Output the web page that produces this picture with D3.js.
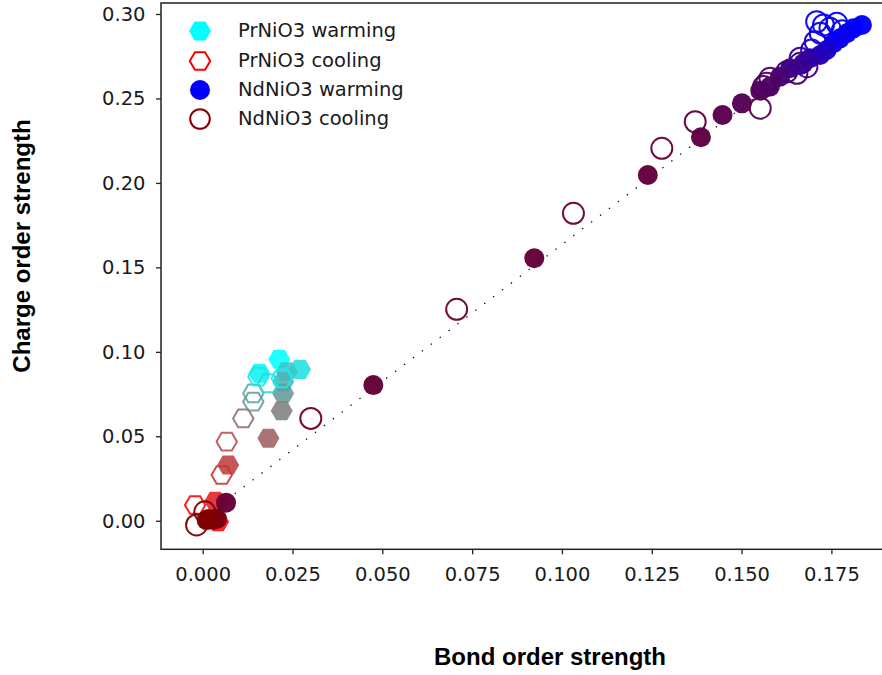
<!DOCTYPE html>
<html>
<head>
<meta charset="utf-8">
<script src="https://cdn.jsdelivr.net/npm/d3@7/dist/d3.min.js"></script>
<style>
  html, body { margin: 0; padding: 0; background: #fff; }
  svg { display: block; }
</style>
</head>
<body>
<svg id="chart" width="882" height="675"></svg>
<script>
// ---- data: bond order vs charge order strength, colour = temperature (K) ----

// PrNiO3, warming (filled hexagons)
const prWarmBond   = [0.0213, 0.0158, 0.0271, 0.0234, 0.0224, 0.0224, 0.0220, 0.0183, 0.0071, 0.0035, 0.0016, 0.0043];
const prWarmCharge = [0.0956, 0.0873, 0.0896, 0.0882, 0.0823, 0.0754, 0.0651, 0.0488, 0.0330, 0.0115, 0.0004, -0.0006];
const prWarmTemp   = [10, 17, 27, 41, 52, 66, 80, 97, 115, 133, 143, 150];

// PrNiO3, cooling (open hexagons)
const prCoolBond   = [-0.0021, 0.0053, 0.0067, 0.0113, 0.0141, 0.0141, 0.0183, 0.0155, 0.0220];
const prCoolCharge = [0.0093, 0.0271, 0.0468, 0.0606, 0.0705, 0.0754, 0.0813, 0.0853, 0.0843];
const prCoolTemp   = [150, 122, 108, 90, 66, 59, 31, 21, 17];

// NdNiO3, warming (filled circles)
const ndWarmBond   = [0.1835, 0.1811, 0.1793, 0.1774, 0.1756, 0.1737, 0.1719, 0.1691, 0.1672, 0.1635, 0.1607, 0.1579,
                      0.1552, 0.1501, 0.1447, 0.1387, 0.1239, 0.0923, 0.0475, 0.0065, 0.0040, 0.0030, 0.0016, 0.0011];
const ndWarmCharge = [0.2935, 0.2915, 0.2886, 0.2856, 0.2827, 0.2787, 0.2757, 0.2738, 0.2708, 0.2679, 0.2629, 0.2570,
                      0.2546, 0.2471, 0.2402, 0.2270, 0.2047, 0.1554, 0.0803, 0.0107, 0.0012, 0.0008, 0.0010, 0.0004];
const ndWarmTemp   = [10, 14, 18, 27, 39, 58, 77, 94, 111, 125, 140, 149,
                      160, 170, 178, 186, 192, 195, 197, 199, 231, 238, 245, 250];

// NdNiO3, cooling (open circles)
const ndCoolBond   = [-0.0017, 0.0006, 0.0301, 0.0707, 0.1032, 0.1278, 0.1371, 0.1552, 0.1561, 0.1570, 0.1579, 0.1626,
                      0.1654, 0.1663, 0.1682, 0.1663, 0.1695, 0.1705, 0.1719, 0.1709, 0.1728, 0.1746, 0.1765, 0.1780];
const ndCoolCharge = [-0.0025, 0.0053, 0.0606, 0.1252, 0.1820, 0.2205, 0.2362, 0.2442, 0.2570, 0.2590, 0.2619, 0.2658,
                      0.2649, 0.2708, 0.2688, 0.2738, 0.2787, 0.2836, 0.2886, 0.2954, 0.2935, 0.2915, 0.2945, 0.2900];
const ndCoolTemp   = [250, 240, 221, 209, 204, 200, 195, 178, 168, 161, 154, 147,
                      140, 125, 118, 101, 82, 58, 39, 27, 22, 17, 12, 10];

// guide line: charge = intercept + slope * bond
const guideSlope = 1.62;
const guideIntercept = 0.0015;
const guideBond = [-0.001, 0.1845];

const xTicks = [0, 0.025, 0.05, 0.075, 0.1, 0.125, 0.15, 0.175];
const yTicks = [0, 0.05, 0.10, 0.15, 0.20, 0.25, 0.30];

const legendLabels = ["PrNiO3 warming", "PrNiO3 cooling", "NdNiO3 warming", "NdNiO3 cooling"];

// ---- layout ----
const svg = d3.select("#chart");
const plot = { left: 161, right: 900, top: 3, bottom: 549.3 };

const x = d3.scaleLinear().domain([-0.0116, 0.1941]).range([plot.left, plot.right]);
const y = d3.scaleLinear().domain([-0.0169, 0.3065]).range([plot.bottom, plot.top]);

const prColor = d3.scaleLinear().domain([150, 10]).range(["#ff0000", "#00ffff"]).clamp(true);
const ndColor = d3.scaleLinear().domain([250, 10]).range(["#800000", "#0000ff"]).clamp(true);

const tickFont = "'DejaVu Sans', sans-serif";
const titleFont = "'Liberation Sans', Arial, sans-serif";

// hexagon with vertices pointing left/right
function hexPath(r) {
  const pts = d3.range(6).map(i => {
    const a = i * Math.PI / 3;
    return [r * Math.cos(a), r * Math.sin(a)];
  });
  return "M" + pts.map(p => p[0].toFixed(2) + "," + p[1].toFixed(2)).join("L") + "Z";
}

// ---- axes ----
const xAxis = d3.axisBottom(x).tickValues(xTicks).tickFormat(d3.format(".3f"))
  .tickSize(5).tickPadding(13).tickSizeOuter(0);
const yAxis = d3.axisLeft(y).tickValues(yTicks).tickFormat(d3.format(".2f"))
  .tickSize(5).tickPadding(10.5).tickSizeOuter(0);

const gx = svg.append("g").attr("transform", `translate(0,${plot.bottom})`).call(xAxis);
const gy = svg.append("g").attr("transform", `translate(${plot.left},0)`).call(yAxis);
[gx, gy].forEach(g => {
  g.select(".domain").remove();
  g.selectAll(".tick line").attr("stroke", "#222").attr("stroke-width", 1.3);
  g.selectAll(".tick text").attr("fill", "#1a1a1a")
    .style("font-family", tickFont).style("font-size", "19.5px");
});

// frame
svg.append("rect")
  .attr("x", plot.left).attr("y", plot.top)
  .attr("width", plot.right - plot.left).attr("height", plot.bottom - plot.top)
  .attr("fill", "none").attr("stroke", "#222").attr("stroke-width", 1.5);

// ---- guide line ----
svg.append("line")
  .attr("x1", x(guideBond[0])).attr("y1", y(guideIntercept + guideSlope * guideBond[0]))
  .attr("x2", x(guideBond[1])).attr("y2", y(guideIntercept + guideSlope * guideBond[1]))
  .attr("stroke", "#000").attr("stroke-width", 1.2)
  .attr("stroke-dasharray", "1.4,9.8");

// ---- markers ----
const marks = svg.append("g");
const zip = (b, c, t) => b.map((v, i) => ({ bond: v, charge: c[i], temp: t[i] }));

marks.append("g").selectAll("path")
  .data(zip(prWarmBond, prWarmCharge, prWarmTemp)).join("path")
  .attr("d", hexPath(11))
  .attr("transform", d => `translate(${x(d.bond)},${y(d.charge)})`)
  .attr("fill", d => prColor(d.temp)).attr("fill-opacity", 0.88);

marks.append("g").selectAll("path")
  .data(zip(prCoolBond, prCoolCharge, prCoolTemp)).join("path")
  .attr("d", hexPath(10.2))
  .attr("transform", d => `translate(${x(d.bond)},${y(d.charge)})`)
  .attr("fill", "none").attr("stroke", d => prColor(d.temp))
  .attr("stroke-width", 2).attr("stroke-opacity", 0.88);

marks.append("g").selectAll("circle")
  .data(zip(ndWarmBond, ndWarmCharge, ndWarmTemp)).join("circle")
  .attr("cx", d => x(d.bond)).attr("cy", d => y(d.charge)).attr("r", 10)
  .attr("fill", d => ndColor(d.temp)).attr("fill-opacity", 0.97);

marks.append("g").selectAll("circle")
  .data(zip(ndCoolBond, ndCoolCharge, ndCoolTemp)).join("circle")
  .attr("cx", d => x(d.bond)).attr("cy", d => y(d.charge)).attr("r", 10.5)
  .attr("fill", "none").attr("stroke", d => ndColor(d.temp))
  .attr("stroke-width", 2).attr("stroke-opacity", 0.95);

// ---- legend ----
const legend = svg.append("g");
const rowY = [31, 61, 90, 119];
const legendX = 200;

legend.append("path").attr("d", hexPath(11))
  .attr("transform", `translate(${legendX},${rowY[0]})`).attr("fill", prColor(10));
legend.append("path").attr("d", hexPath(10.2))
  .attr("transform", `translate(${legendX},${rowY[1]})`)
  .attr("fill", "none").attr("stroke", prColor(150)).attr("stroke-width", 2);
legend.append("circle").attr("cx", legendX).attr("cy", rowY[2]).attr("r", 10)
  .attr("fill", ndColor(10));
legend.append("circle").attr("cx", legendX).attr("cy", rowY[3]).attr("r", 9.8)
  .attr("fill", "none").attr("stroke", "#8b0000").attr("stroke-width", 2);

legend.selectAll("text").data(legendLabels).join("text")
  .attr("x", 238).attr("y", (d, i) => rowY[i] + 6)
  .attr("fill", "#1a1a1a")
  .style("font-family", tickFont).style("font-size", "19.5px")
  .text(d => d);

// ---- axis titles ----
svg.append("text")
  .attr("x", 550).attr("y", 665)
  .attr("text-anchor", "middle")
  .style("font-family", titleFont).style("font-weight", "bold").style("font-size", "24px")
  .text("Bond order strength");

svg.append("text")
  .attr("transform", "translate(30,246) rotate(-90)")
  .attr("text-anchor", "middle")
  .style("font-family", titleFont).style("font-weight", "bold").style("font-size", "24px")
  .text("Charge order strength");
</script>
</body>
</html>
